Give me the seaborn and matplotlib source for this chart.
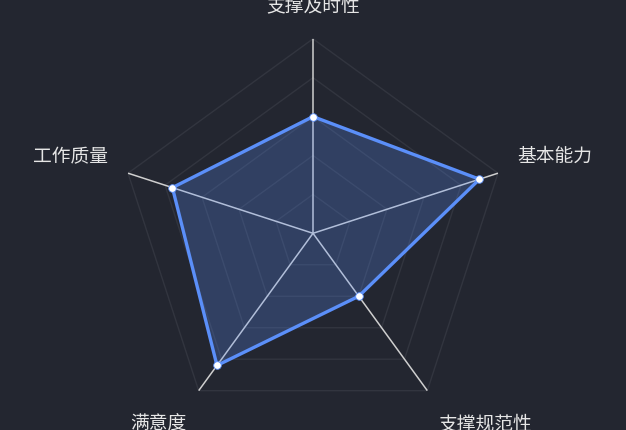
import numpy as np
import pandas as pd
import matplotlib
matplotlib.use("Agg")
import matplotlib.pyplot as plt
import seaborn as sns

categories = ["支撑及时性", "基本能力", "支撑规范性", "满意度", "工作质量"]
values = [60, 90, 40, 84, 76]
max_value = 100
ring_levels = [20, 40, 60, 80, 100]

BG = "#232630"
LINE = "#5b8ff9"

sns.set_theme(style="white")
plt.rcParams["font.family"] = ["Noto Sans CJK SC", "DejaVu Sans"]

W, H = 626, 431
fig = plt.figure(figsize=(W / 100, H / 100), dpi=100, facecolor=BG)

cx, cy, R = 313.0, 431 - 234.3, 194.5
ax = fig.add_axes([(cx - R) / W, (cy - R) / H, 2 * R / W, 2 * R / H], projection="polar")
ax.set_facecolor("none")
ax.set_theta_offset(np.pi / 2)
ax.set_theta_direction(-1)
ax.set_ylim(0, max_value)
ax.grid(False)
ax.set_xticks([])
ax.set_yticks([])
ax.spines["polar"].set_visible(False)

n = len(categories)
angles = np.arange(n) * 2 * np.pi / n
closed = np.append(angles, angles[0])

# polygon grid rings
for lv in ring_levels:
    ax.plot(closed, [lv] * (n + 1), color="#32353f", lw=1.0, zorder=1)
# axis lines
for a in angles:
    ax.plot([a, a], [0, max_value], color="#cfcfcf", lw=1.1, zorder=2)

df = pd.DataFrame({"theta": closed, "value": values + [values[0]]})
ax.fill(df["theta"], df["value"], color=LINE, alpha=0.25, lw=0, zorder=3)
sns.lineplot(data=df, x="theta", y="value", sort=False, color=LINE, lw=2.4,
             ax=ax, zorder=4, estimator=None)
sns.scatterplot(x=angles, y=values, color="white", s=30, edgecolor=LINE,
                linewidth=0.6, ax=ax, zorder=5, clip_on=False)
ax.set_xlabel("")
ax.set_ylabel("")

label_pos = [(313, 6), (555, 156), (485, 424), (158, 424), (70, 157)]
for txt, (px, py) in zip(categories, label_pos):
    fig.text(px / W, 1 - py / H, txt, ha="center", va="center",
             color="#e6e6e6", fontsize=13.5)

fig.savefig("out.png", dpi=100, facecolor=BG)
